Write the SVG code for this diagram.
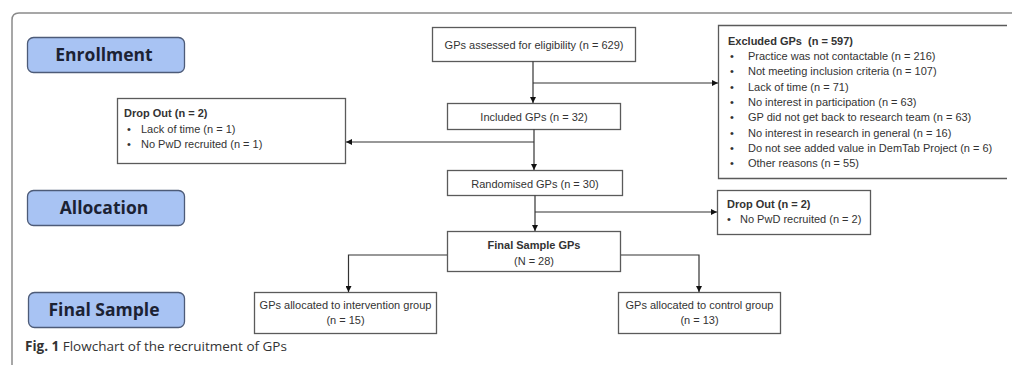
<svg xmlns="http://www.w3.org/2000/svg" width="1012" height="365" viewBox="0 0 1012 365">
<defs>
<marker id="ah" viewBox="0 0 10 10" refX="10" refY="5" markerWidth="6" markerHeight="6" orient="auto" markerUnits="userSpaceOnUse">
<path d="M0,0 L10,5 L0,10 Z" fill="#111"/>
</marker>
<style>
.box{fill:#fff;stroke:#5a5a5a;stroke-width:1.3}
.lab{fill:#a8c3f3;stroke:#4d5b78;stroke-width:1.3}
.t{font-family:"Liberation Sans",Arial,sans-serif;font-size:11px;fill:#333}
.b{font-weight:bold}
.m{text-anchor:middle}
.lt{font-family:"Open Sans",sans-serif;font-weight:700;font-size:17.5px;fill:#1c2233;text-anchor:middle}
.c{fill:none;stroke:#333;stroke-width:1.2}
.cap{font-family:"Open Sans",sans-serif;font-size:13.5px;fill:#333}
</style>
</defs>
<path d="M12,365 V20 Q12,13 19,13 H1012" fill="none" stroke="#8a8a8a" stroke-width="1.5"/>

<g id="label-enrollment"><rect class="lab" x="27.5" y="37.5" width="157" height="35" rx="6"/><text class="lt" x="104" y="61">Enrollment</text></g>
<g id="label-allocation"><rect class="lab" x="27.5" y="190.5" width="157" height="35" rx="6"/><text class="lt" x="104" y="214">Allocation</text></g>
<g id="label-final"><rect class="lab" x="28.5" y="292.5" width="156" height="35" rx="6"/><text class="lt" x="104" y="316">Final Sample</text></g>

<g id="assessed"><rect class="box" x="432.5" y="27.5" width="203" height="34"/><text class="t m" x="534" y="49">GPs assessed for eligibility (n = 629)</text></g>

<g id="excluded"><path class="box" d="M1007,25.5 H718.5 V178.5 H1007"/>
<text class="t b" x="728" y="45">Excluded GPs&#160; (n = 597)</text>
<g class="t">
<text x="730" y="59.5">•</text><text x="748" y="59.5">Practice was not contactable (n = 216)</text>
<text x="730" y="75">•</text><text x="748" y="75">Not meeting inclusion criteria (n = 107)</text>
<text x="730" y="90.5">•</text><text x="748" y="90.5">Lack of time (n = 71)</text>
<text x="730" y="106">•</text><text x="748" y="106">No interest in participation (n = 63)</text>
<text x="730" y="121">•</text><text x="748" y="121">GP did not get back to research team (n = 63)</text>
<text x="730" y="136.5">•</text><text x="748" y="136.5">No interest in research in general (n = 16)</text>
<text x="730" y="152">•</text><text x="748" y="152">Do not see added value in DemTab Project (n = 6)</text>
<text x="730" y="167">•</text><text x="748" y="167">Other reasons (n = 55)</text>
</g></g>

<g id="included"><rect class="box" x="447.5" y="103.5" width="173" height="26"/><text class="t m" x="534" y="121">Included GPs (n = 32)</text></g>

<g id="dropout1"><rect class="box" x="117.5" y="98.5" width="228" height="65"/>
<text class="t b" x="124" y="117">Drop Out (n = 2)</text>
<text class="t" x="127" y="133">•</text><text class="t" x="141" y="133">Lack of time (n = 1)</text>
<text class="t" x="127" y="148">•</text><text class="t" x="141" y="148">No PwD recruited (n = 1)</text></g>

<g id="randomised"><rect class="box" x="447.5" y="170.5" width="175" height="25"/><text class="t m" x="535" y="188">Randomised GPs (n = 30)</text></g>

<g id="dropout2"><rect class="box" x="717.5" y="190.5" width="153" height="44"/>
<text class="t b" x="727" y="208">Drop Out (n = 2)</text>
<text class="t" x="727" y="223">•</text><text class="t" x="740" y="223">No PwD recruited (n = 2)</text></g>

<g id="final"><rect class="box" x="447.5" y="231.5" width="173" height="40"/>
<text class="t b m" x="534" y="249">Final Sample GPs</text><text class="t m" x="534" y="265">(N = 28)</text></g>

<g id="intervention"><rect class="box" x="254.5" y="292.5" width="182" height="41"/>
<text class="t m" x="345.5" y="309">GPs allocated to intervention group</text><text class="t m" x="345.5" y="324">(n = 15)</text></g>

<g id="control"><rect class="box" x="618.5" y="292.5" width="162" height="41"/>
<text class="t m" x="699.5" y="309">GPs allocated to control group</text><text class="t m" x="699.5" y="324">(n = 13)</text></g>

<g id="connectors">
<path class="c" d="M533,61.5 V103" marker-end="url(#ah)"/>
<path class="c" d="M533,83 H718" marker-end="url(#ah)"/>
<path class="c" d="M534,129.5 V170" marker-end="url(#ah)"/>
<path class="c" d="M534,142 H346" marker-end="url(#ah)"/>
<path class="c" d="M535,195.5 V231" marker-end="url(#ah)"/>
<path class="c" d="M535,212 H717" marker-end="url(#ah)"/>
<path class="c" d="M447,255 H348.5 V292" marker-end="url(#ah)"/>
<path class="c" d="M621,255 H699 V292" marker-end="url(#ah)"/>
</g>

<text class="cap" x="25" y="351"><tspan font-weight="bold">Fig. 1</tspan> Flowchart of the recruitment of GPs</text>
</svg>
